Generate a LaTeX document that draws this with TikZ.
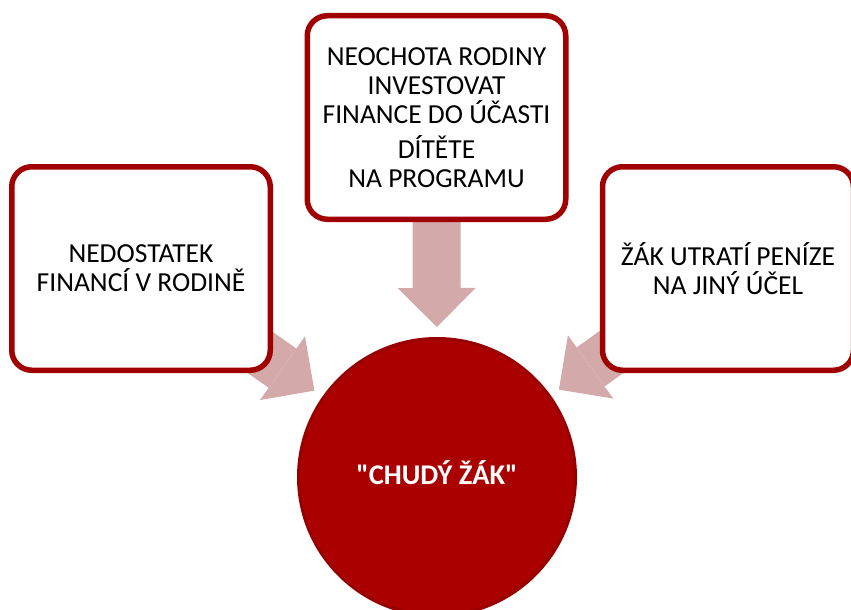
\documentclass[tikz,border=0pt]{standalone}
\usepackage{fontspec}
\setmainfont{Carlito}[Ligatures=TeXOff]
\usetikzlibrary{
  arrows.meta,
  backgrounds,
  calc,
}
\definecolor{boxred}{RGB}{160,0,0}
\definecolor{circred}{RGB}{171,0,0}
\definecolor{circedge}{RGB}{152,0,0}
\definecolor{arrowpink}{RGB}{212,169,169}
\tikzset{
  x = 1pt,
  y = -1pt,
  cause/.style={
    draw=boxred, line width=5.5pt, fill=white, rounded corners=20pt,
    minimum width=258.5pt, minimum height=203.5pt,
    inner sep=0pt, outer sep=0pt, align=center,
    font=\fontsize{27.5}{29}\selectfont,
  },
  effect/.style={
    circle, draw=circedge, line width=3pt, fill=circred,
    minimum size=277pt, text=white,
    text height=15pt, text depth=0pt,
    font=\fontsize{28.5}{30}\selectfont\bfseries,
  },
  push/.style={
    arrowpink, line width=48pt,
    -{Triangle[length=39pt, width=78pt, line width=0pt]},
  },
}

\begin{document}
\begin{tikzpicture}
  \useasboundingbox (0,0) rectangle (851,610);
  \node[effect](Chudy) at (437,477){"CHUDÝ ŽÁK"};
  \node[cause](Neochota) at (436.5,117.5){NEOCHOTA RODINY\\INVESTOVAT\\FINANCE DO ÚČASTI\\[6pt]DÍTĚTE\\NA PROGRAMU};
  \node[cause](Nedostatek) at (141,268.5){NEDOSTATEK\\FINANCÍ V RODINĚ};
  \node[cause, minimum width=251pt](Utrata) at (728,268.5){ŽÁK UTRATÍ PENÍZE\\NA JINÝ ÚČEL};
  %%
  \begin{scope}[on background layer]
    \foreach \src in {Neochota, Nedostatek, Utrata}
      \draw[push](\src.center) -- ($(Chudy.center)!150pt!(\src.center)$);
  \end{scope}
\end{tikzpicture}
\end{document}
